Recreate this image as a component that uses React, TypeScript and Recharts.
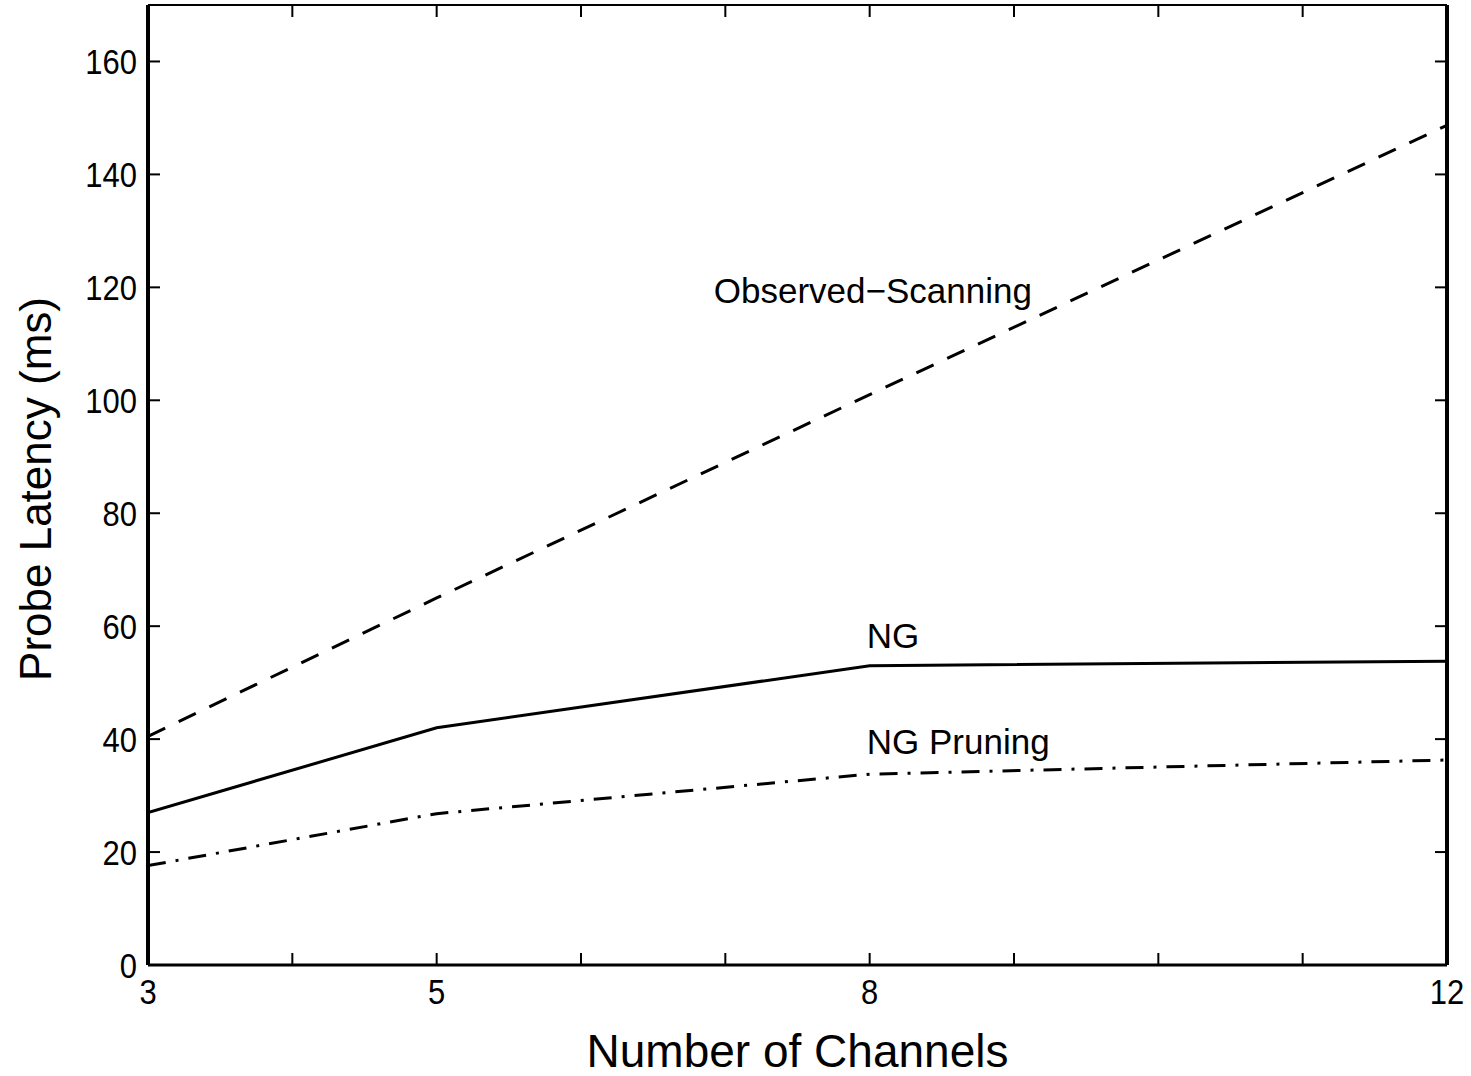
import React from 'react';
import { LineChart, Line, XAxis, YAxis, ReferenceDot } from 'recharts';

// values
const channels = [3, 5, 8, 12];
const observedScanning = [40.5, 65, 101, 148.7];
const ngLatency = [27, 42, 53, 53.8];
const ngPruning = [17.6, 26.8, 33.8, 36.3];

const xTicks = [3, 4, 5, 6, 7, 8, 9, 10, 11, 12];
const xLabelled = [3, 5, 8, 12];
const yTicks = [0, 20, 40, 60, 80, 100, 120, 140, 160];

const data = channels.map((c, i) => ({
  x: c,
  observed: observedScanning[i],
  ng: ngLatency[i],
  pruning: ngPruning[i],
}));

const FONT = '"Liberation Sans", Arial, Helvetica, sans-serif';
const axisLine = { stroke: '#000', strokeWidth: 3 };
const tickLine = { stroke: '#000', strokeWidth: 2 };

const noLabel = () => '';

// the figure's tick numbers are a bit stretched vertically
const StretchTick = (props: any) => {
  const { x, y, payload, textAnchor, verticalAnchor, show } = props;
  if (!show(payload.value)) return null;
  const dy = verticalAnchor === 'start' ? '0.72em' : '0.36em';
  return (
    <g transform={`translate(${x},${y}) scale(1,1.15)`}>
      <text x={0} y={0} dy={dy} textAnchor={textAnchor} fontSize={31} fontFamily={FONT} fill="#000">
        {payload.value}
      </text>
    </g>
  );
};

const YLabel = (props: any) => {
  const vb = props.viewBox || {};
  const cx = 35;
  const cy = vb.y + vb.height / 2 + 4;
  return (
    <text
      x={cx}
      y={cy}
      transform={`rotate(-90, ${cx}, ${cy})`}
      textAnchor="middle"
      dominantBaseline="central"
      fontSize={44}
      fontFamily={FONT}
      fill="#000"
    >
      Probe Latency (ms)
    </text>
  );
};

const noteStyle = { fill: '#000', fontSize: 35, fontFamily: FONT };

const App: React.FC = () => {
  return (
    <div style={{ position: 'absolute', left: 0, top: 0, width: 1471, height: 1076, background: '#fff' }}>
      <LineChart width={1471} height={1076} data={data} margin={{ top: 0, right: 0, bottom: 0, left: 0 }}>
        <XAxis
          xAxisId="b"
          dataKey="x"
          type="number"
          domain={[3, 12]}
          ticks={xTicks}
          interval={0}
          allowDataOverflow
          orientation="bottom"
          height={111}
          tickSize={-12}
          tickMargin={25}
          tick={<StretchTick show={(v: number) => xLabelled.includes(v)} />}
          tickLine={tickLine}
          axisLine={axisLine}
          label={{ value: 'Number of Channels', position: 'insideBottom', offset: 9, fontSize: 46, fontFamily: FONT, fill: '#000' }}
        />
        <XAxis
          xAxisId="t"
          dataKey="x"
          type="number"
          domain={[3, 12]}
          ticks={xTicks}
          interval={0}
          allowDataOverflow
          orientation="top"
          height={5}
          tickSize={-12}
          tickLine={tickLine}
          axisLine={{ stroke: '#000', strokeWidth: 2 }}
          tickFormatter={noLabel}
        />
        <YAxis
          yAxisId="l"
          type="number"
          domain={[0, 170]}
          ticks={yTicks}
          interval={0}
          allowDataOverflow
          orientation="left"
          width={148}
          tickSize={-12}
          tickMargin={23}
          tick={<StretchTick show={() => true} />}
          tickLine={tickLine}
          axisLine={{ stroke: '#000', strokeWidth: 4 }}
          label={<YLabel />}
        />
        <YAxis
          yAxisId="r"
          type="number"
          domain={[0, 170]}
          ticks={yTicks}
          interval={0}
          allowDataOverflow
          orientation="right"
          width={24}
          tickSize={-12}
          tickLine={tickLine}
          axisLine={{ stroke: '#000', strokeWidth: 4 }}
          tickFormatter={noLabel}
        />

        <Line
          xAxisId="b"
          yAxisId="l"
          type="linear"
          dataKey="observed"
          stroke="#000"
          strokeWidth={3}
          strokeDasharray="19 15"
          dot={false}
          activeDot={false}
          isAnimationActive={false}
        />
        <Line
          xAxisId="b"
          yAxisId="l"
          type="linear"
          dataKey="ng"
          stroke="#000"
          strokeWidth={3}
          dot={false}
          activeDot={false}
          isAnimationActive={false}
        />
        <Line
          xAxisId="b"
          yAxisId="l"
          type="linear"
          dataKey="pruning"
          stroke="#000"
          strokeWidth={3}
          strokeDasharray="18 10 3 10"
          dot={false}
          activeDot={false}
          isAnimationActive={false}
        />

        <ReferenceDot xAxisId="b" yAxisId="l" x={6.92} y={119.5} r={0} stroke="none"
          label={{ value: 'Observed\u2212Scanning', position: 'right', offset: 0, ...noteStyle }} />
        <ReferenceDot xAxisId="b" yAxisId="l" x={7.98} y={58.3} r={0} stroke="none"
          label={{ value: 'NG', position: 'right', offset: 0, ...noteStyle }} />
        <ReferenceDot xAxisId="b" yAxisId="l" x={7.98} y={39.5} r={0} stroke="none"
          label={{ value: 'NG Pruning', position: 'right', offset: 0, ...noteStyle }} />
      </LineChart>
    </div>
  );
};

export default App;
